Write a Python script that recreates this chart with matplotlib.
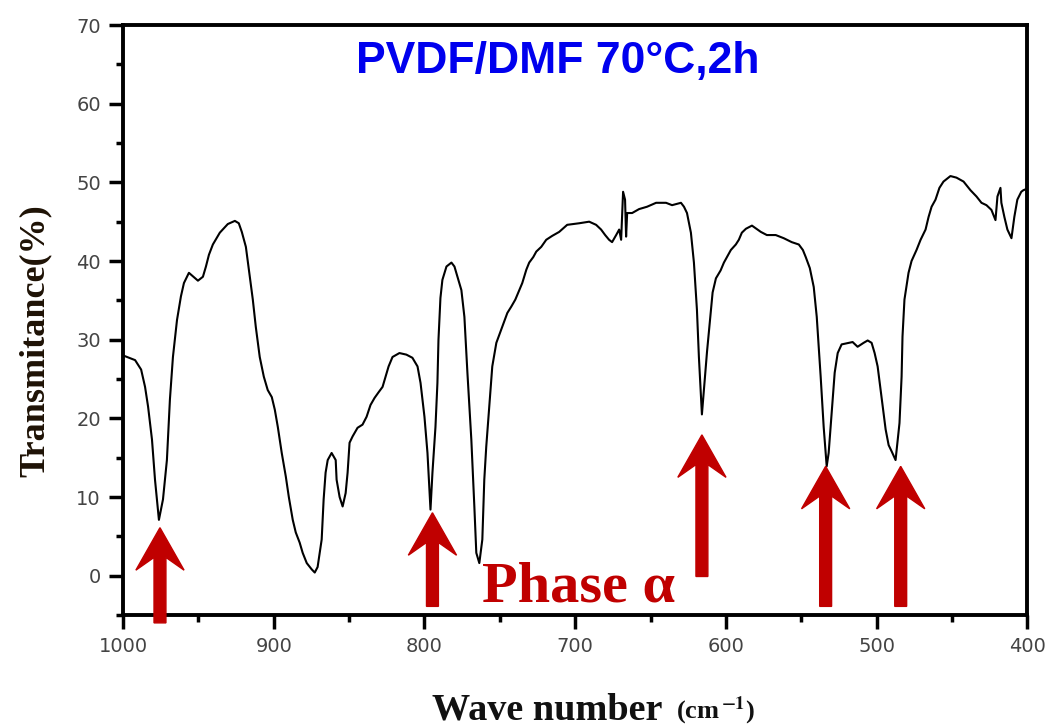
import matplotlib
matplotlib.use("Agg")
import matplotlib.pyplot as plt
from matplotlib.ticker import MultipleLocator

plt.rcParams['mathtext.fontset'] = 'stix'

# FTIR spectrum
wavenumber = [1000, 992, 988, 985.4, 983.4, 980.8, 978.8, 976.2, 973.5, 970.9, 968.9, 966.9, 964.2,
              961.6, 959.6, 956.3, 950.3, 947, 945, 943, 940.4, 935.8, 930.5, 925.8, 923.2, 921.2,
              918.5, 916.5, 913.9, 911.9, 909.3, 906.6, 904, 901.3, 899.3, 897.3, 894.7, 892, 890,
              887.4, 885.4, 882.8, 880.8, 878.1, 874.8, 872.8, 870.9, 868.2, 866.9, 865.6, 864.2,
              861.6, 858.9, 858.3, 856.3, 854.3, 852.3, 851, 849.7, 847.7, 844.4, 841.1, 838.4,
              835.8, 833.1, 830.5, 827.8, 825.8, 823.8, 821.2, 816.6, 812, 808, 804.6, 802.6, 800,
              798, 796, 794.7, 792.7, 791.4, 790.7, 789.4, 788.1, 785.4, 782.1, 780.1, 778.1, 775.5,
              773.5, 771.5, 768.9, 766.9, 765.6, 763.6, 761.6, 760.3, 759, 757, 755, 752.3, 749, 747,
              745, 742.4, 739.7, 737.7, 735.1, 732.4, 730.5, 727.8, 725.8, 722.5, 719.2, 715.2,
              710.6, 705.3, 697.3, 690.7, 686.1, 682.8, 680.1, 677.5, 675.5, 672.8, 670.8, 669.5,
              668.2, 666.9, 666.2, 665.5, 662.2, 657.6, 652.3, 646.3, 639.7, 635.7, 629.8, 627.8,
              625.8, 623.2, 621.2, 619.2, 617.9, 615.9, 614.2, 612.5, 610.5, 608.8, 606.6, 603.5,
              601.3, 599.3, 596.7, 593.4, 591.4, 589.4, 586.7, 582.7, 576.8, 572.8, 566.9, 561.6,
              556.3, 551.6, 548.9, 547, 544.3, 541.7, 539.7, 537.1, 535.1, 533.1, 531.8, 529.8,
              527.8, 525.8, 523.2, 518.5, 515.9, 512.6, 508.6, 505.9, 503.3, 501.3, 499.3, 496.7,
              494, 492, 490, 487.4, 484.8, 483.4, 482.8, 481.5, 478.8, 476.8, 473.5, 470.8, 467.5,
              465.5, 463.5, 460.9, 458.3, 455.6, 451, 447, 442.3, 437.7, 433.7, 430.4, 427.1, 423.8,
              421.1, 419.8, 417.8, 417.2, 415.2, 413.2, 410.5, 408.6, 406.6, 404, 402.6, 400]
transmittance = [28.0, 27.4, 26.2, 24.0, 21.5, 17.3, 12.2, 7.1, 9.7, 14.7, 22.4, 27.8, 32.5,
                 35.5, 37.2, 38.5, 37.5, 38.0, 39.3, 40.8, 42.1, 43.6, 44.7, 45.1, 44.8, 43.7,
                 41.8, 38.9, 35.1, 31.6, 27.8, 25.3, 23.6, 22.7, 21.1, 18.9, 15.6, 12.6, 10.0,
                 7.1, 5.5, 4.2, 2.9, 1.6, 0.8, 0.4, 1.1, 4.6, 9.7, 13.1, 14.7,
                 15.6, 14.7, 12.2, 10.0, 8.8, 10.5, 13.1, 16.9, 17.7, 18.8, 19.2, 20.2,
                 21.7, 22.6, 23.3, 24.0, 25.3, 26.6, 27.8, 28.3, 28.1, 27.7, 26.6, 24.5, 20.2,
                 15.6, 8.4, 13.1, 18.9, 24.5, 30.0, 35.3, 37.6, 39.3, 39.8, 39.3, 38.0, 36.3,
                 32.9, 25.8, 17.3, 8.8, 2.9, 1.6, 4.6, 12.2, 16.4, 21.5, 26.6, 29.6, 31.3, 32.3,
                 33.4, 34.2, 35.1, 36.0, 37.2, 38.9, 39.8, 40.5, 41.2, 41.8, 42.7, 43.2,
                 43.7, 44.6, 44.8, 45.0, 44.6, 44.0, 43.3, 42.7, 42.4, 43.3, 44.0, 42.7,
                 48.8, 47.8, 43.1, 46.1, 46.1, 46.6, 46.9, 47.4, 47.4, 47.1, 47.4, 46.9,
                 46.1, 43.6, 39.8, 33.8, 27.8, 20.5, 24.5, 28.5, 32.5, 36.0, 37.8, 38.8,
                 39.8, 40.5, 41.4, 42.1, 42.7, 43.6, 44.1, 44.5, 43.7, 43.3, 43.3, 42.9,
                 42.4, 42.1, 41.4, 40.5, 39.1, 36.7, 32.9, 25.3, 18.9, 13.9, 15.6, 20.7,
                 25.8, 28.3, 29.4, 29.6, 29.7, 29.1, 29.6, 29.9, 29.6, 28.3, 26.6, 22.7,
                 18.6, 16.6, 15.8, 14.7, 19.4, 25.3, 30.4, 35.1, 38.5, 40.0, 41.4, 42.7, 44.0,
                 45.6, 46.9, 47.8, 49.3, 50.1, 50.8, 50.6, 50.1, 49.0, 48.2, 47.4, 47.1, 46.5,
                 45.2, 48.2, 49.3, 47.4, 45.6, 44.0, 42.9, 45.6, 47.8, 48.8, 49.0, 49.2]

# red arrows marking the alpha-phase bands
arrow_x = [975.5, 794.7, 615.9, 533.8, 484]
arrow_tip = [6.1, 8.0, 17.9, 13.9, 13.9]
arrow_tail = [-6.0, -3.9, -0.1, -3.9, -3.9]

fig = plt.figure(figsize=(10.49, 7.25), dpi=100)
ax = fig.add_axes([0.1173, 0.1517, 0.862, 0.8138])

ax.plot(wavenumber, transmittance, color='black', lw=1.5)

for x, tip, tail in zip(arrow_x, arrow_tip, arrow_tail):
    ax.arrow(x, tail, 0, tip - tail, width=7.9, head_width=32, head_length=5.4,
             overhang=0.3, length_includes_head=True, color='#C00000',
             clip_on=False, zorder=3)

ax.set_xlim(1000, 400)
ax.set_ylim(-5, 70)
ax.set_xticks(range(1000, 399, -100))
ax.set_yticks(range(0, 71, 10))
ax.xaxis.set_minor_locator(MultipleLocator(50))
ax.yaxis.set_minor_locator(MultipleLocator(5))
ax.tick_params(which='major', direction='out', length=10, width=2.5,
               labelsize=14, pad=6, labelcolor='#444444')
ax.tick_params(which='minor', direction='out', length=5, width=2.5)
for s in ax.spines.values():
    s.set_linewidth(2.8)

fig.text(558 / 1049, 1 - 73 / 725, 'PVDF/DMF 70°C,2h', ha='center', va='baseline',
         fontsize=32, fontweight='bold', family='Liberation Sans', color='#0000EE')

fig.text(482 / 1049, 1 - 602 / 725, 'Phase α', ha='left', va='baseline',
         fontsize=42, fontweight='bold', family='Liberation Serif', color='#C00000')

fig.text(35 / 1049, 1 - 341 / 725, 'Transmitance(%)', rotation=90, ha='center', va='center',
         fontsize=26, fontweight='bold', family='Liberation Serif', color='#1e1205')

t1 = fig.text(432 / 1049, 1 - 719 / 725, 'Wave number', ha='left', va='baseline',
              fontsize=27.5, fontweight='bold', family='Liberation Serif', color='#111111')
ax.annotate(r'(cm$^{\,\mathbf{-1}}$)', xy=(1, 0), xycoords=t1, xytext=(10, 0),
            textcoords='offset points', ha='left', va='bottom',
            fontsize=19, fontweight='bold', family='Liberation Serif', color='#111111',
            annotation_clip=False)

fig.savefig('out.png', dpi=100)
